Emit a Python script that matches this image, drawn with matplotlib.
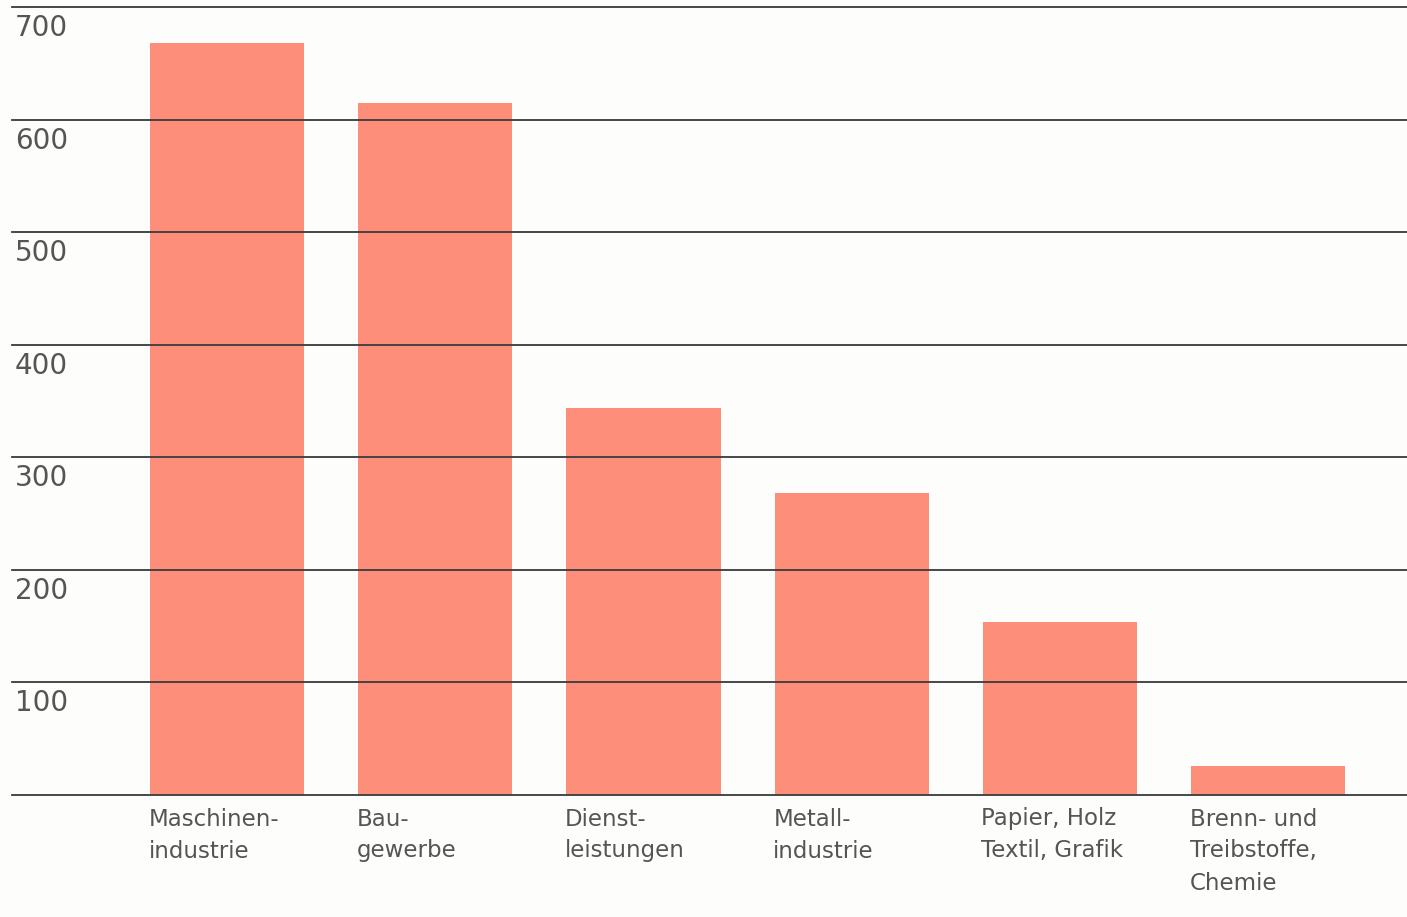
import matplotlib.pyplot as plt
import matplotlib.transforms as mtransforms

# Daten
kategorien = ['Maschinen-\nindustrie', 'Bau-\ngewerbe', 'Dienst-\nleistungen',
              'Metall-\nindustrie', 'Papier, Holz\nTextil, Grafik',
              'Brenn- und\nTreibstoffe,\nChemie']
werte = [668, 615, 344, 268, 154, 26]
y_ticks = [100, 200, 300, 400, 500, 600, 700]

balken_farbe = '#fd8e79'
text_farbe = '#555555'
linien_farbe = '#3a3a3a'

plt.rcParams['font.family'] = ['DejaVu Sans']

fig = plt.figure(figsize=(14.07, 9.17), dpi=100)
fig.patch.set_facecolor('#fdfdfb')
ax = fig.add_axes([12 / 1407, (917 - 795) / 917, 1395 / 1407, 795 / 917])
ax.set_facecolor('#fdfdfb')

x = list(range(len(werte)))
breite = 0.74
ax.bar(x, werte, width=breite, color=balken_farbe, zorder=2)

# Gitterlinien über den Balken
for v in [0] + y_ticks:
    ax.axhline(v, color=linien_farbe, lw=1.3, zorder=3, clip_on=False)

ax.set_xlim(-1.033, 5.667)
ax.set_ylim(0, 700 * 795 / 788)
for s in ax.spines.values():
    s.set_visible(False)
ax.set_xticks([])
ax.set_yticks([])

# Y-Beschriftung unter den Linien
trans = mtransforms.blended_transform_factory(ax.transAxes, ax.transData)
for v in y_ticks:
    ax.annotate(str(v), xy=(0, v), xycoords=trans, xytext=(2, -5),
                textcoords='offset points', ha='left', va='top',
                fontsize=20, color=text_farbe)

# Kategorien links bündig an Balkenkante
for xi, lab in zip(x, kategorien):
    ax.annotate(lab, xy=(xi - breite / 2, 0), xycoords='data',
                xytext=(-1, -9), textcoords='offset points',
                ha='left', va='top', fontsize=16.5, color=text_farbe,
                linespacing=1.5, annotation_clip=False)

fig.savefig('out.png', dpi=100, facecolor=fig.get_facecolor())
